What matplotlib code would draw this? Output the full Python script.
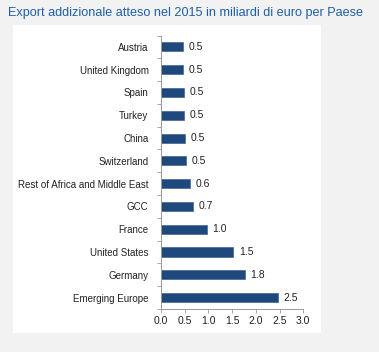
import matplotlib.pyplot as plt
import numpy as np

# Data (top to bottom as shown)
countries = ['Austria', 'United Kingdom', 'Spain', 'Turkey', 'China', 'Switzerland',
             'Rest of Africa and Middle East', 'GCC', 'France', 'United States',
             'Germany', 'Emerging Europe']
values = [0.46, 0.46, 0.48, 0.49, 0.50, 0.52, 0.62, 0.68, 0.96, 1.52, 1.77, 2.47]
xticks = [0.0, 0.5, 1.0, 1.5, 2.0, 2.5, 3.0]

title = 'Export addizionale atteso nel 2015 in miliardi di euro per Paese'

plt.rcParams['font.family'] = ['Liberation Sans', 'DejaVu Sans']

fig = plt.figure(figsize=(3.79, 3.52), dpi=100)
fig.patch.set_facecolor('#f2f2f2')

# white panel behind the chart
bg = fig.add_axes([13 / 379, 1 - 333 / 352, 308 / 379, 308 / 352], zorder=-1)
bg.set_facecolor('white')
bg.set_xticks([])
bg.set_yticks([])
for s in bg.spines.values():
    s.set_visible(False)

fig.text(8 / 379, 1 - 13 / 352, title, ha='left', va='center',
         fontsize=9.1, color='#1f5fa8')

ax = fig.add_axes([161 / 379, 1 - 309 / 352, 142.3 / 379, 273.5 / 352])
ax.set_facecolor('none')

y = np.arange(len(countries))[::-1]
ax.barh(y, values, height=0.4, color='#1f497d', edgecolor='#3d6596', linewidth=0.5)

for yi, v in zip(y, values):
    ax.text(v + 0.12, yi, f'{v:.1f}', va='center', ha='left',
            fontsize=7.5, color='#222222')

ax.set_xlim(0, 3)
ax.set_ylim(-0.5, len(countries) - 0.5)
ax.set_xticks(xticks)
ax.set_xticklabels([f'{t:.1f}' for t in xticks], fontsize=7.5, color='#222222')
ax.set_yticks(y)
ax.set_yticklabels(countries, fontsize=7, color='#222222')
ax.set_yticks(np.arange(-0.5, len(countries), 1.0), minor=True)

ax.tick_params(axis='y', which='major', length=0, pad=9)
ax.tick_params(axis='y', which='minor', length=3, color='#999999', width=0.6)
ax.tick_params(axis='x', length=3, color='#999999', width=0.6, pad=2)

for side in ['top', 'right']:
    ax.spines[side].set_visible(False)
for side in ['left', 'bottom']:
    ax.spines[side].set_color('#999999')
    ax.spines[side].set_linewidth(0.7)

fig.savefig('out.png', dpi=100, facecolor=fig.get_facecolor())
